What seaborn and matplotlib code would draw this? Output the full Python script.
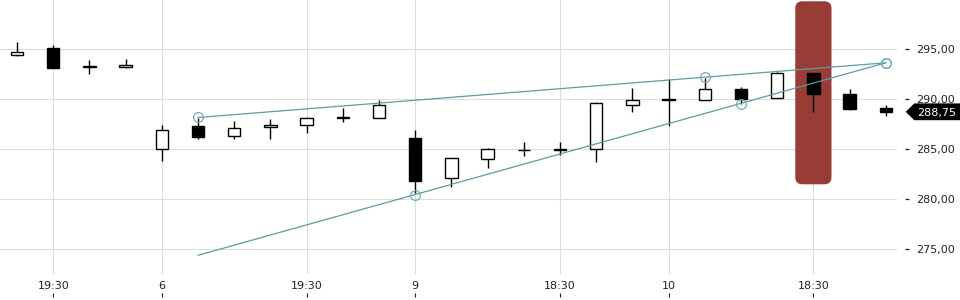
import numpy as np
import pandas as pd
import matplotlib
matplotlib.use("Agg")
import matplotlib.pyplot as plt
import seaborn as sns
from matplotlib.patches import FancyBboxPatch, Polygon

# ---------------- data ----------------
candle_idx = list(range(25))
opens  = [294.4, 295.1, 293.3, 293.2, 285.0, 287.3, 286.3, 287.2, 287.4, 288.2, 288.1, 286.1, 282.1,
          284.0, 284.95, 284.95, 285.0, 289.4, 290.0, 289.9, 291.0, 290.15, 292.6, 290.5, 289.1]
closes = [294.7, 293.15, 293.2, 293.4, 286.9, 286.25, 287.1, 287.45, 288.1, 288.1, 289.4, 281.85, 284.1,
          285.0, 284.9, 285.0, 289.6, 289.9, 289.9, 291.0, 290.0, 292.6, 290.55, 289.0, 288.75]
highs  = [295.75, 295.4, 293.9, 294.0, 287.45, 288.1, 287.8, 288.0, 288.2, 289.15, 289.9, 286.9, 284.1,
          285.1, 285.7, 285.7, 289.7, 291.1, 292.0, 292.1, 291.2, 292.7, 292.65, 291.0, 289.4]
lows   = [294.3, 293.1, 292.55, 293.1, 283.85, 286.05, 286.05, 286.05, 286.65, 287.75, 288.1, 280.6, 281.2,
          283.15, 284.35, 284.4, 283.75, 288.75, 287.3, 289.9, 289.5, 290.15, 288.75, 288.95, 288.35]

xtick_idx = [1, 4, 8, 11, 15, 18, 22]
xtick_labels = ["19:30", "6", "19:30", "9", "18:30", "10", "18:30"]
ytick_vals = [275, 280, 285, 290, 295]

upper_x = [5, 24]
upper_y = [288.18, 293.65]
lower_x = [5, 24]
lower_y = [274.4, 293.65]
upper_marks_x = [5, 19, 24]
upper_marks_y = [288.18, 292.2, 293.65]
lower_marks_x = [11, 20, 24]
lower_marks_y = [280.45, 289.53, 293.65]

highlight_idx = 22
highlight_low = 281.5
highlight_high = 299.8
last_price = 288.75

# ---------------- style ----------------
sns.set_theme(style="white")
plt.rcParams['font.family'] = ['DejaVu Sans']

W, H = 960, 300
fig = plt.figure(figsize=(W / 100, H / 100), dpi=100)
ax_left, ax_right_px, ax_bottom_px = 0, 897, 273.7
ax = fig.add_axes([0, (H - ax_bottom_px) / H, ax_right_px / W, ax_bottom_px / H])

xmin, xmax = -0.47, 24.31
ymin, ymax = 272.56, 299.93
ax.set_xlim(xmin, xmax)
ax.set_ylim(ymin, ymax)

for s in ax.spines.values():
    s.set_visible(False)

ax.set_axisbelow(True)
ax.grid(True, color="#dcdcdc", linewidth=0.75)

# highlight band
px_per_x = (ax_right_px) / (xmax - xmin)
px_per_y = ax_bottom_px / (ymax - ymin)
aspect = (1 / px_per_y) / (1 / px_per_x)
hl = FancyBboxPatch((highlight_idx - 0.5, highlight_low), 1.0, highlight_high - highlight_low,
                    boxstyle="round,pad=0,rounding_size=%f" % (7 / px_per_x),
                    mutation_aspect=aspect, facecolor="#993c35", edgecolor="none", zorder=1.5)
ax.add_patch(hl)

# candles
df = pd.DataFrame({"i": candle_idx, "o": opens, "c": closes, "h": highs, "l": lows})
ax.vlines(df["i"], df["l"], df["h"], color="black", linewidth=1.0, zorder=3)
bottoms = np.minimum(df["o"], df["c"])
heights = np.abs(df["c"] - df["o"])
colors = ["white" if c > o else "black" for o, c in zip(df["o"], df["c"])]
ax.bar(df["i"], heights, bottom=bottoms, width=0.34, color=colors, edgecolor="black",
       linewidth=1.0, zorder=4)

# trend lines
teal = "#5a9ca3"
sns.lineplot(x=upper_x, y=upper_y, ax=ax, color=teal, linewidth=0.9, zorder=5)
sns.lineplot(x=lower_x, y=lower_y, ax=ax, color=teal, linewidth=0.9, zorder=5)
ax.plot(upper_marks_x, upper_marks_y, linestyle="none", marker="o", markersize=7,
        markerfacecolor="none", markeredgecolor="#72adb3", markeredgewidth=0.9, zorder=6)
ax.plot(lower_marks_x, lower_marks_y, linestyle="none", marker="o", markersize=7,
        markerfacecolor="none", markeredgecolor="#72adb3", markeredgewidth=0.9, zorder=6)
ax.set_xlabel("")
ax.set_ylabel("")

# x axis
ax.set_xticks(xtick_idx)
ax.set_xticklabels(xtick_labels)
ax.tick_params(axis="x", length=0, pad=5.5, labelsize=8, labelcolor="#222222")
sec = ax.secondary_xaxis(-19.3 / ax_bottom_px)
sec.set_xticks(xtick_idx)
sec.tick_params(axis="x", length=3, width=0.8, color="#222222", labelbottom=False, direction="out")
for s in sec.spines.values():
    s.set_visible(False)

# y axis on the right
ax.yaxis.tick_right()
ax.spines["right"].set_position(("outward", 8 * 0.72))
ax.set_yticks(ytick_vals)
ax.set_yticklabels([f"{v:.2f}".replace(".", ",") for v in ytick_vals])
ax.tick_params(axis="y", length=3, width=0.9, color="#222222", pad=5.3, labelsize=8,
               labelcolor="#222222", direction="out")

# last price tag
y_disp = ax.transData.transform((0, last_price))[1]
yc = y_disp / H
hh = 8.4 / H
tip = 905.7 / W
base = 914.3 / W
poly = Polygon([(tip, yc), (base, yc + hh), (1.0, yc + hh), (1.0, yc - hh), (base, yc - hh)],
               closed=True, transform=fig.transFigure, facecolor="black", edgecolor="none", zorder=10)
fig.add_artist(poly)
fig.text(916.7 / W, yc, f"{last_price:.2f}".replace(".", ","), color="white", fontsize=8,
         va="center_baseline", ha="left", zorder=11)

fig.savefig("out.png", dpi=100)
